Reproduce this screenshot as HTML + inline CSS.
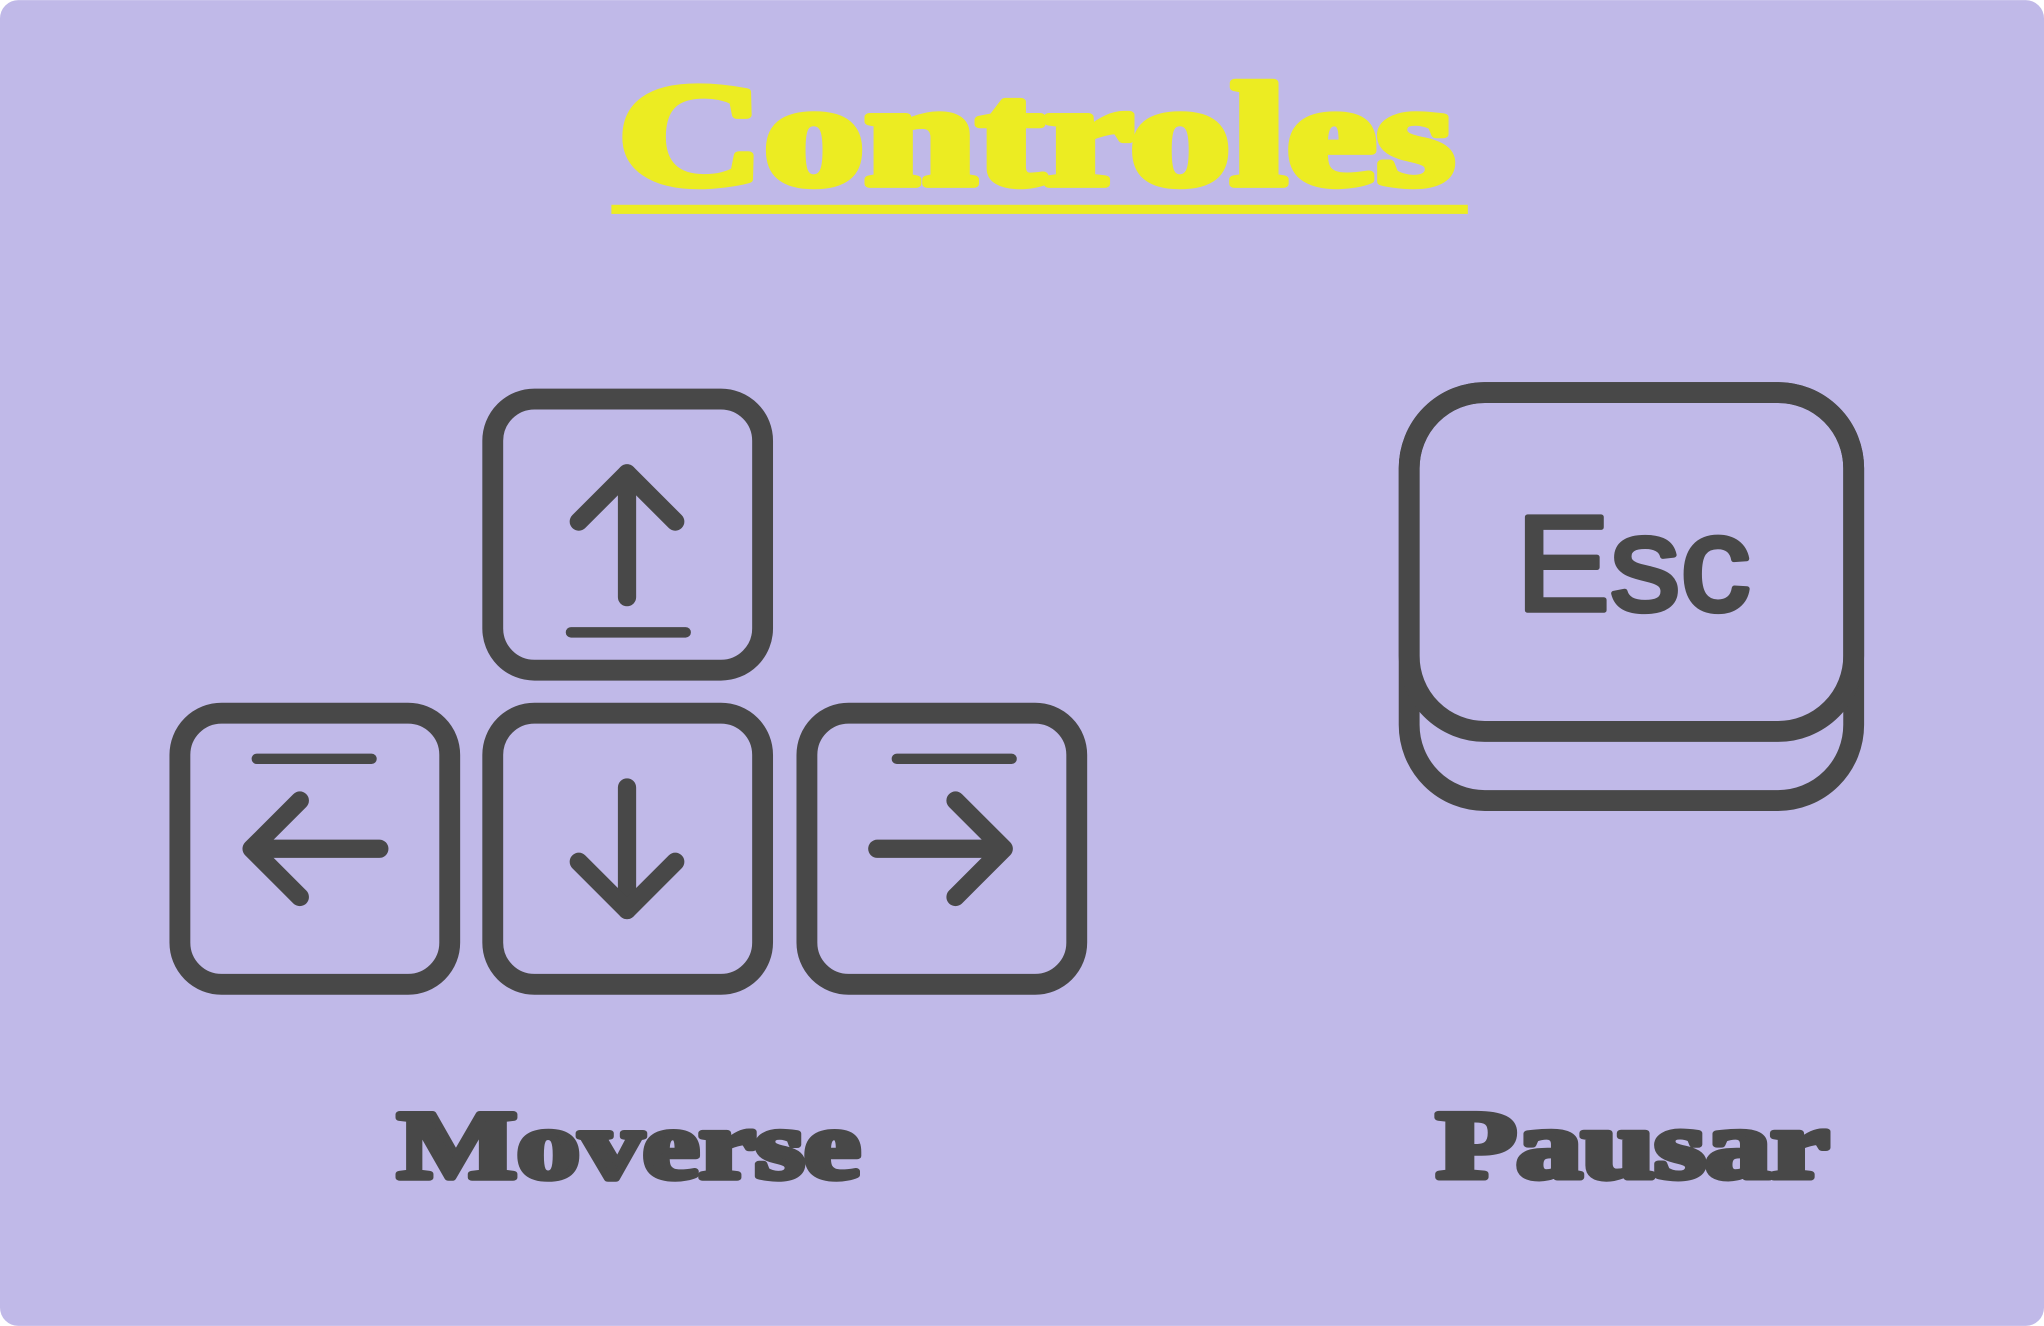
<!DOCTYPE html>
<html><head><meta charset="utf-8"><style>
html,body{margin:0;padding:0;background:#fff;}
svg{display:block;}
</style></head><body>
<svg width="2044" height="1326" viewBox="0 0 1568 1017" xmlns="http://www.w3.org/2000/svg">
<rect x="0" y="0" width="1568" height="1017" rx="14" fill="#c0b9e8"/>
<text x="795" y="141" text-anchor="middle" font-family="Liberation Serif, serif" font-weight="bold" font-size="112" fill="#ecec22" stroke="#ecec22" stroke-width="6" stroke-linejoin="round" textLength="642" lengthAdjust="spacingAndGlyphs">Controles</text>
<rect x="469" y="157" width="657" height="7" fill="#ecec22"/>
<g fill="none" stroke="#484848" stroke-width="16" stroke-linecap="round" stroke-linejoin="round">
<rect x="378" y="306" width="207" height="208" rx="32"/>
<rect x="138" y="547" width="207" height="208" rx="32"/>
<rect x="378" y="547" width="207" height="208" rx="32"/>
<rect x="619" y="547" width="207" height="208" rx="32"/>
<rect x="1081" y="301" width="341" height="313" rx="58"/>
<rect x="1081" y="301" width="341" height="260" rx="58"/>
</g>
<g fill="none" stroke="#484848" stroke-width="14" stroke-linecap="round" stroke-linejoin="round">
<line x1="481" y1="458" x2="481" y2="363"/>
<polyline points="444,400 481,363 518,400"/>
<line x1="291" y1="651" x2="194" y2="651"/>
<polyline points="230,614 193,651 230,688"/>
<line x1="481" y1="604" x2="481" y2="698"/>
<polyline points="444,661 481,698 518,661"/>
<line x1="673" y1="651" x2="769" y2="651"/>
<polyline points="733,614 770,651 733,688"/>
</g>
<g stroke="#484848" stroke-width="8" stroke-linecap="round">
<line x1="438" y1="485" x2="526" y2="485"/>
<line x1="197" y1="582" x2="285" y2="582"/>
<line x1="688" y1="582" x2="776" y2="582"/>
</g>
<text x="1163" y="468" font-family="Liberation Sans, sans-serif" font-size="104" fill="#484848" stroke="#484848" stroke-width="4" stroke-linejoin="round" textLength="180" lengthAdjust="spacingAndGlyphs">Esc</text>
<g font-family="Liberation Serif, serif" font-weight="bold" font-size="74" fill="#484848" stroke="#484848" stroke-width="5" stroke-linejoin="round">
<text x="305" y="903" textLength="355" lengthAdjust="spacingAndGlyphs">Moverse</text>
<text x="1102" y="903" textLength="301" lengthAdjust="spacingAndGlyphs">Pausar</text>
</g>
</svg>
</body></html>
